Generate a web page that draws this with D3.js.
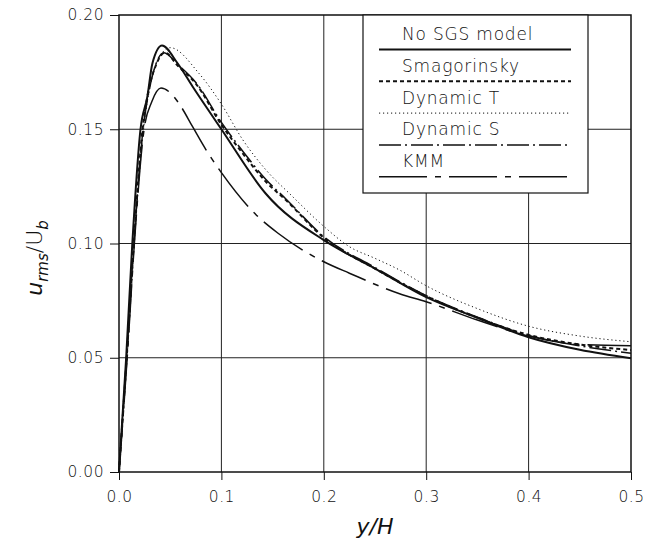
<!DOCTYPE html>
<html><head><meta charset="utf-8">
<script src="https://cdn.jsdelivr.net/npm/d3@7/dist/d3.min.js"></script>
<style>
body{margin:0;background:#fff;}
svg text{font-family:"DejaVu Sans",sans-serif;fill:#111;}
</style></head>
<body><svg id="c" width="647" height="547"></svg>
<script>
const seriesNames = ["No SGS model","Smagorinsky","Dynamic T","Dynamic S","KMM"];
const noSGS = [[0,0],[0.007,0.05],[0.013,0.1],[0.021,0.15],[0.0277,0.1643],[0.0326,0.1788],[0.042,0.1866],[0.057,0.179],[0.072,0.1686],[0.1,0.150],[0.143,0.122],[0.2,0.1015],[0.225,0.095],[0.25,0.089],[0.3,0.0765],[0.35,0.0675],[0.4,0.059],[0.45,0.0535],[0.5,0.0498]];
const smag = [[0,0],[0.0075,0.05],[0.0145,0.1],[0.023,0.15],[0.028,0.165],[0.036,0.178],[0.045,0.1835],[0.057,0.178],[0.075,0.170],[0.1,0.152],[0.1207,0.1395],[0.1435,0.127],[0.163,0.119],[0.2,0.1025],[0.25,0.089],[0.3,0.077],[0.35,0.0675],[0.4,0.060],[0.45,0.0558],[0.5,0.0534]];
const dynT = [[0,0],[0.008,0.05],[0.015,0.1],[0.024,0.15],[0.032,0.172],[0.04,0.182],[0.05,0.1857],[0.078,0.1745],[0.1,0.161],[0.121,0.1453],[0.1435,0.1322],[0.168,0.1212],[0.2,0.1075],[0.225,0.0986],[0.25,0.0935],[0.274,0.0884],[0.3,0.0815],[0.35,0.0715],[0.4,0.0638],[0.45,0.0595],[0.5,0.057]];
const dynS = [[0,0],[0.0075,0.05],[0.0145,0.1],[0.0235,0.15],[0.029,0.166],[0.036,0.1785],[0.044,0.1835],[0.057,0.1785],[0.075,0.1705],[0.1,0.153],[0.1207,0.1405],[0.1435,0.128],[0.163,0.1195],[0.2,0.103],[0.25,0.0895],[0.3,0.0772],[0.35,0.0678],[0.4,0.0598],[0.45,0.0552],[0.5,0.052]];
const kmm = [[0,0],[0.008,0.05],[0.015,0.1],[0.0245,0.15],[0.032,0.162],[0.041,0.168],[0.05,0.166],[0.059,0.161],[0.072,0.151],[0.085,0.141],[0.1,0.131],[0.134,0.1125],[0.155,0.1046],[0.2,0.092],[0.225,0.087],[0.274,0.078],[0.3,0.0745],[0.35,0.0665],[0.4,0.0595],[0.45,0.0558],[0.5,0.0553]];
const xTicks = [0,0.1,0.2,0.3,0.4,0.5];
const yTicks = [0,0.05,0.10,0.15,0.20];

const seriesData = [noSGS, smag, dynT, dynS, kmm];
const styles = [
  {dash:null, w:2.0},
  {dash:"4,3", w:2.0},
  {dash:"1.2,2.8", w:1.0},
  {dash:"22,4,2,4", w:1.5},
  {dash:"48,8,6,8", w:1.5}
];

const svg = d3.select("#c");
const L=119, R=631, T=15, B=472;
const x = d3.scaleLinear().domain([0,0.5]).range([L,R]);
const y = d3.scaleLinear().domain([0,0.2]).range([B,T]);

// grid
const g = svg.append("g");
g.selectAll(".vg").data(xTicks.slice(1,-1)).enter().append("line")
  .attr("x1",d=>x(d)).attr("x2",d=>x(d)).attr("y1",T).attr("y2",B)
  .attr("stroke","#222").attr("stroke-width",1);
g.selectAll(".hg").data(yTicks.slice(1,-1)).enter().append("line")
  .attr("x1",L).attr("x2",R).attr("y1",d=>y(d)).attr("y2",d=>y(d))
  .attr("stroke","#222").attr("stroke-width",1);

// axes
const xAxis = d3.axisBottom(x).tickValues(xTicks).tickFormat(d3.format(".1f")).tickSize(8).tickPadding(8);
const yAxis = d3.axisLeft(y).tickValues(yTicks).tickFormat(d3.format(".2f")).tickSize(9).tickPadding(6);
const gx = svg.append("g").attr("transform",`translate(0,${B})`).call(xAxis);
const gy = svg.append("g").attr("transform",`translate(${L},0)`).call(yAxis);
[gx,gy].forEach(a=>{
  a.select(".domain").remove();
  a.selectAll("line").attr("stroke","#111");
  a.selectAll("text").attr("font-size",15.5).attr("font-weight",300).attr("fill","#111")
   .style("font-family","'DejaVu Sans',sans-serif").style("letter-spacing","0.5px");
});
gx.selectAll("text").attr("dy","0.9em");
// frame
svg.append("rect").attr("x",L).attr("y",T).attr("width",R-L).attr("height",B-T)
  .attr("fill","none").attr("stroke","#111").attr("stroke-width",1.5);

// curves
const line = d3.line().x(d=>x(d[0])).y(d=>y(d[1])).curve(d3.curveMonotoneX);
svg.append("g").selectAll("path").data(seriesData).enter().append("path")
  .attr("d",d=>line(d)).attr("fill","none").attr("stroke","#111")
  .attr("stroke-width",(d,i)=>styles[i].w)
  .attr("stroke-dasharray",(d,i)=>styles[i].dash);

// legend
const lg = svg.append("g");
lg.append("rect").attr("x",363).attr("y",T).attr("width",225).attr("height",178)
  .attr("fill","#fff").attr("stroke","#111").attr("stroke-width",1.2);
const entries = lg.selectAll(".e").data(seriesNames).enter().append("g")
  .attr("transform",(d,i)=>`translate(0,${i*31.8})`);
entries.append("text").attr("x",402).attr("y",40).text(d=>d)
  .attr("font-size",17).attr("font-weight",200).style("letter-spacing","0.8px");
entries.append("line").attr("x1",379).attr("x2",571).attr("y1",49.5).attr("y2",49.5)
  .attr("stroke","#111").attr("stroke-width",(d,i)=>styles[i].w)
  .attr("stroke-dasharray",(d,i)=>styles[i].dash);

// axis titles
svg.append("text").attr("x",375).attr("y",534).attr("text-anchor","middle")
  .attr("font-size",22).attr("font-style","italic").attr("font-weight",200).text("y/H");
const yl = svg.append("text").attr("transform","translate(42,258) rotate(-90)")
  .attr("text-anchor","middle").attr("font-size",22).attr("font-weight",200);
yl.append("tspan").attr("font-style","italic").text("u");
yl.append("tspan").attr("font-style","italic").attr("font-size",15).attr("dy",6).text("rms");
yl.append("tspan").attr("dy",-6).text("/U");
yl.append("tspan").attr("font-style","italic").attr("font-size",15).attr("dy",6).text("b");
</script></body></html>
